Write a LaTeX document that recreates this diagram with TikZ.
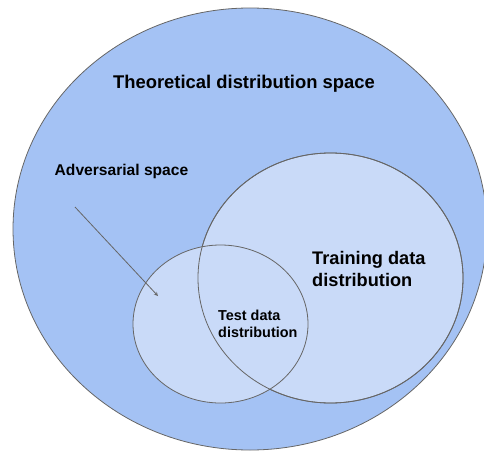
\documentclass[tikz,border=0pt]{standalone}
\usepackage{fontspec}
\setmainfont{Liberation Sans}
\usetikzlibrary{shapes.geometric}

\definecolor{outerblue}{HTML}{A4C2F4}
\definecolor{innerblue}{HTML}{C9DAF8}
\definecolor{rimgray}{HTML}{666666}

\tikzset{
    region/.style={ellipse, draw=rimgray, line width=0.8pt, inner sep=0pt, outer sep=0pt},
    rim/.style={ellipse, draw=rimgray, line width=0.8pt, inner sep=0pt, outer sep=0pt},
    caption/.style={font=\bfseries, inner sep=0pt, align=left}
}

\begin{document}
\begin{tikzpicture}[x=1pt, y=-1pt]
        \useasboundingbox (0,0) rectangle (484,452);
        \clip (0,0) rectangle (484,452);

        % regions
        \node[region, fill=outerblue, minimum width=474pt, minimum height=442pt] (theory) at (250,229) {};
        \node[region, fill=innerblue, minimum width=265pt, minimum height=250pt] (train) at (330.5,278) {};
        \node[region, fill=innerblue, minimum width=175pt, minimum height=158pt] (test) at (220.5,324) {};
        \node[rim, minimum width=265pt, minimum height=250pt] (trainrim) at (train) {};

        % labels
        \node[caption, font=\bfseries\fontsize{18.4}{22}\selectfont] (theorylabel) at (244,84) {Theoretical distribution space};
        \node[caption, font=\bfseries\fontsize{15.6}{18}\selectfont] (advlabel) at (121.5,171) {Adversarial space};
        \node[caption, anchor=west, font=\bfseries\fontsize{18.2}{22}\selectfont] (trainlabel) at (312,269) {Training data\\distribution};
        \node[caption, anchor=west, font=\bfseries\fontsize{14.4}{17}\selectfont] (testlabel) at (218,323.5) {Test data\\distribution};

        \coordinate (advfrom) at (75,207);
        \coordinate (advto) at (158,296);
        \draw[-stealth, rimgray, line width=0.8pt] (advfrom) -- (advto);
\end{tikzpicture}
\end{document}
